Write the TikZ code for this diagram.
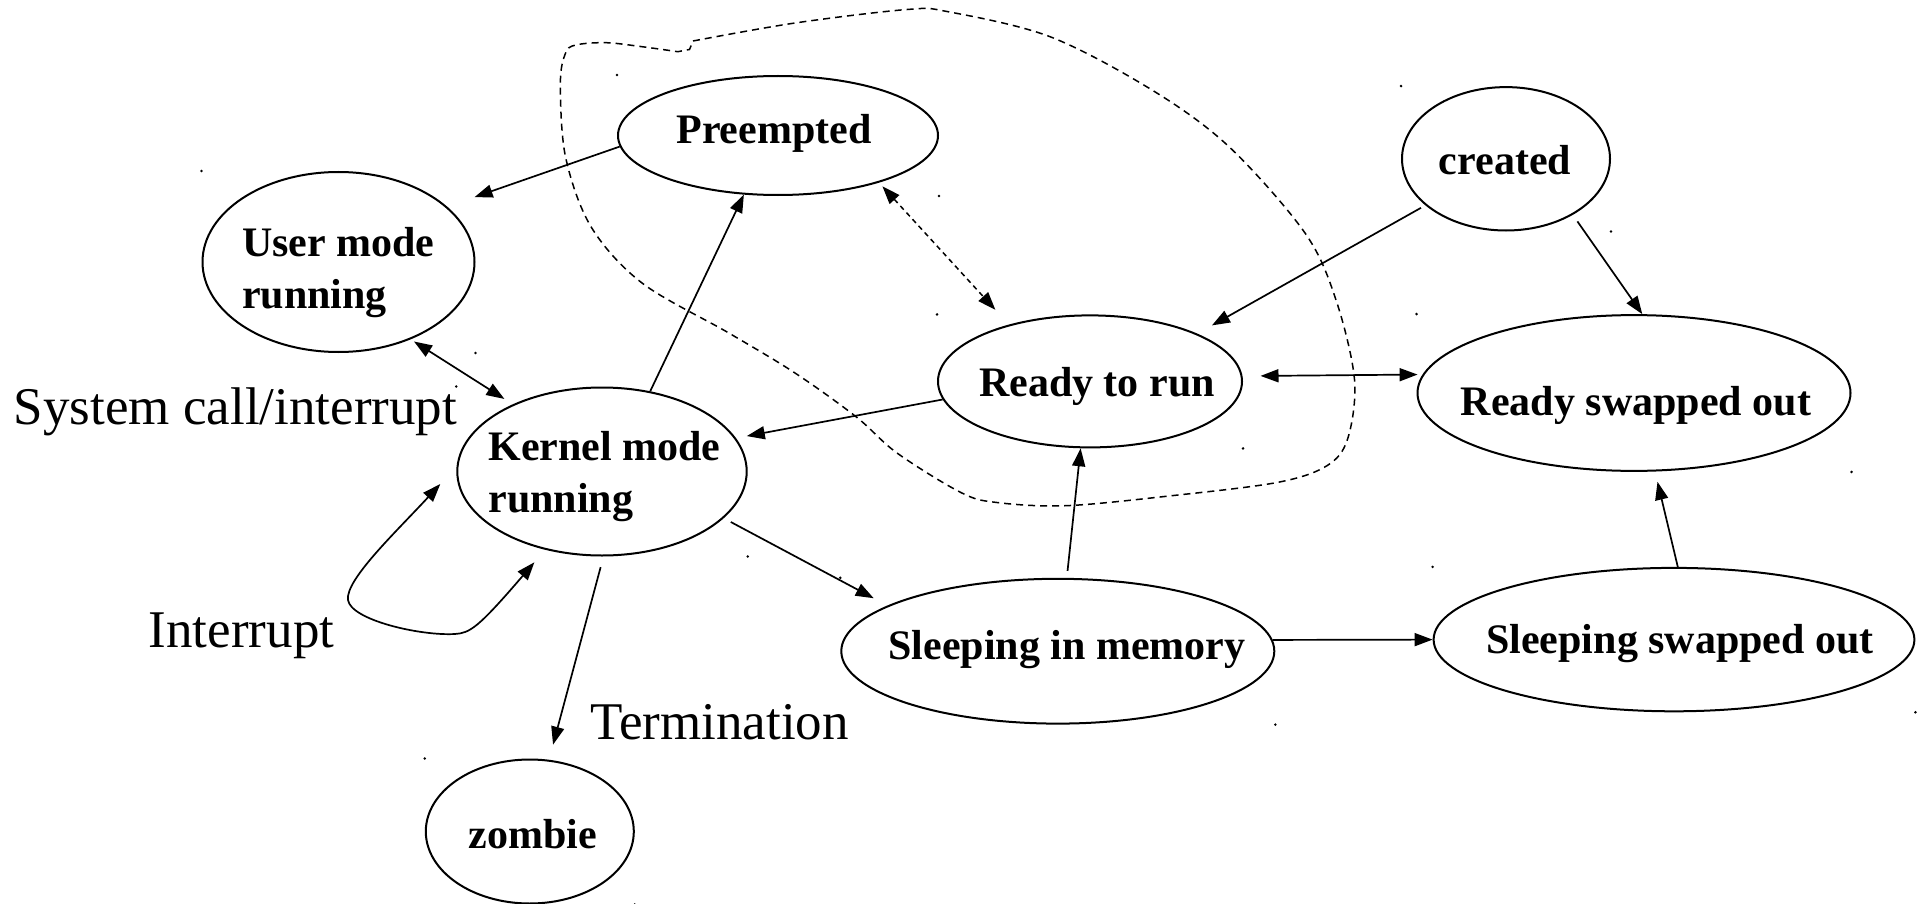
\documentclass[tikz,border=0pt]{standalone}
\usepackage{fontspec}
\setmainfont{Liberation Serif}
\usetikzlibrary{arrows.meta,shapes.geometric,calc}
\tikzset{
  state/.style={draw, ellipse, line width=1pt, inner sep=0pt},
  stxt/.style={font=\fontsize{21}{25.75}\selectfont\bfseries, inner sep=0pt, align=left},
  ann/.style={font=\fontsize{26.5}{30}\selectfont, inner sep=0pt, anchor=base west},
  tip/.tip={Triangle[length=9pt,width=6.5pt]},
  conn/.style={line width=0.85pt, -tip},
  biconn/.style={line width=0.85pt, tip-tip},
  outline/.style={line width=0.75pt, dash pattern=on 3.5pt off 2.5pt},
  dashconn/.style={line width=0.75pt, dash pattern=on 2.5pt off 2pt, tip-tip},
  handle/.style={fill=black}
}
\begin{document}
\begin{tikzpicture}[x=0.5pt,y=-0.5pt]
\useasboundingbox (0,0) rectangle (1923,904);
\fill[white] (0,0) rectangle (1923,904);

% states
\node[state, minimum width=160pt, minimum height=59.5pt] (pre) at (778,135.5) {};
\node[state, minimum width=136pt, minimum height=90pt] (user) at (338.5,262) {};
\node[state, minimum width=144.7pt, minimum height=84pt] (kernel) at (602,471.5) {};
\node[state, minimum width=152pt, minimum height=66pt] (ready) at (1090,381.4) {};
\node[state, minimum width=104pt, minimum height=71.7pt] (created) at (1506,158.8) {};
\node[state, minimum width=216.5pt, minimum height=77.9pt] (rso) at (1634,393) {};
\node[state, minimum width=216.5pt, minimum height=72.4pt] (sim) at (1057.8,651.2) {};
\node[state, minimum width=240.4pt, minimum height=71.7pt] (sso) at (1674,639.6) {};
\node[state, minimum width=104pt, minimum height=72pt] (zombie) at (529.8,831.5) {};

% state texts
\node[stxt, anchor=base] (pre-t) at (774,144) {Preempted};
\node[stxt, anchor=base west] (user-t) at (241.6,308) {User mode\\running};
\node[stxt, anchor=base west] (kernel-t) at (488,512) {Kernel mode\\running};
\node[stxt, anchor=base] (ready-t) at (1097,396) {Ready to run};
\node[stxt, anchor=base] (created-t) at (1505,174.7) {created};
\node[stxt, anchor=base] (rso-t) at (1636,415) {Ready swapped out};
\node[stxt, anchor=base] (sim-t) at (1067,659) {Sleeping in memory};
\node[stxt, anchor=base] (sso-t) at (1680,653) {Sleeping swapped out};
\node[stxt, anchor=base] (zombie-t) at (533,848) {zombie};

% annotations
\node[ann] (syscall) at (13.5,424.5) {System call/interrupt};
\node[ann] (intr) at (148.4,647.5) {Interrupt};
\node[ann] (term) at (590,739.5) {Termination};

% dashed region
\draw[outline] plot[smooth, tension=0.55] coordinates {(693,41) (795,23) (907,9.5) (948,11.7) (1050,36.7) (1152,90) (1229,146.7) (1305,233) (1336,300) (1354.5,379.6) (1347.6,439) (1326.5,466) (1277,482.5) (1171.7,495.7) (1066,505.7) (996,502.4) (960.7,492.4) (897,453) (856,416.7) (795,373) (728.8,333) (642,283) (591,226.7) (565.5,156.7) (560.4,83) (565.5,53.3) (575.7,45) (606.3,42.7) (642,46.7) (677.8,51.7)} -- (689.5,49.5) -- (693,41);

% connectors
\draw[conn, shorten >=14.5pt] (pre.184.7) -- (user.27);
\draw[biconn, shorten <=2pt, shorten >=5pt] (user.313.5) -- (kernel.143);
\draw[conn] (kernel.59.8) -- (pre.240.9);
\draw[dashconn, shorten <=2.5pt, shorten >=10pt] (pre.335.2) -- (ready.145.1);
\draw[conn, shorten >=5.5pt] (ready.187.1) -- (kernel.14.7);
\draw[conn, shorten <=2.5pt, shorten >=8.4pt] (created.210.2) -- (ready.24.8);
\draw[conn, shorten <=4pt] (created.320) -- (rso.84.9);
\draw[biconn, shorten <=9pt, shorten >=2.5pt] (ready.2) -- (rso.175.3);
\draw[conn, shorten <=3.5pt] (sim.83.4) -- (ready.262.6);
\draw[conn, shorten <=4pt, shorten >=7.8pt] (kernel.339.4) -- (sim.165.1);
\draw[conn] (sim.3.2) -- (sso.180);
\draw[conn, shorten >=5.3pt] (sso.87) -- (rso.285.3);
\draw[conn, shorten <=5.5pt, shorten >=7.8pt] (kernel.271.6) -- (zombie.75.6);
\draw[biconn, shorten <=12pt, shorten >=8.25pt] (kernel.178) .. controls (396,532) and (345,580) .. (348,600) .. controls (351,620) and (420,636) .. (455,634) .. controls (470,633) and (478,628) .. (kernel.234.5);

% selection handles
\foreach \n in {pre,user,kernel,ready,created,rso,sim,sso,zombie}{
  \fill[handle] (\n.west |- \n.north) circle (0.7pt);
  \fill[handle] (\n.east |- \n.south) circle (0.7pt);
}
\end{tikzpicture}
\end{document}
